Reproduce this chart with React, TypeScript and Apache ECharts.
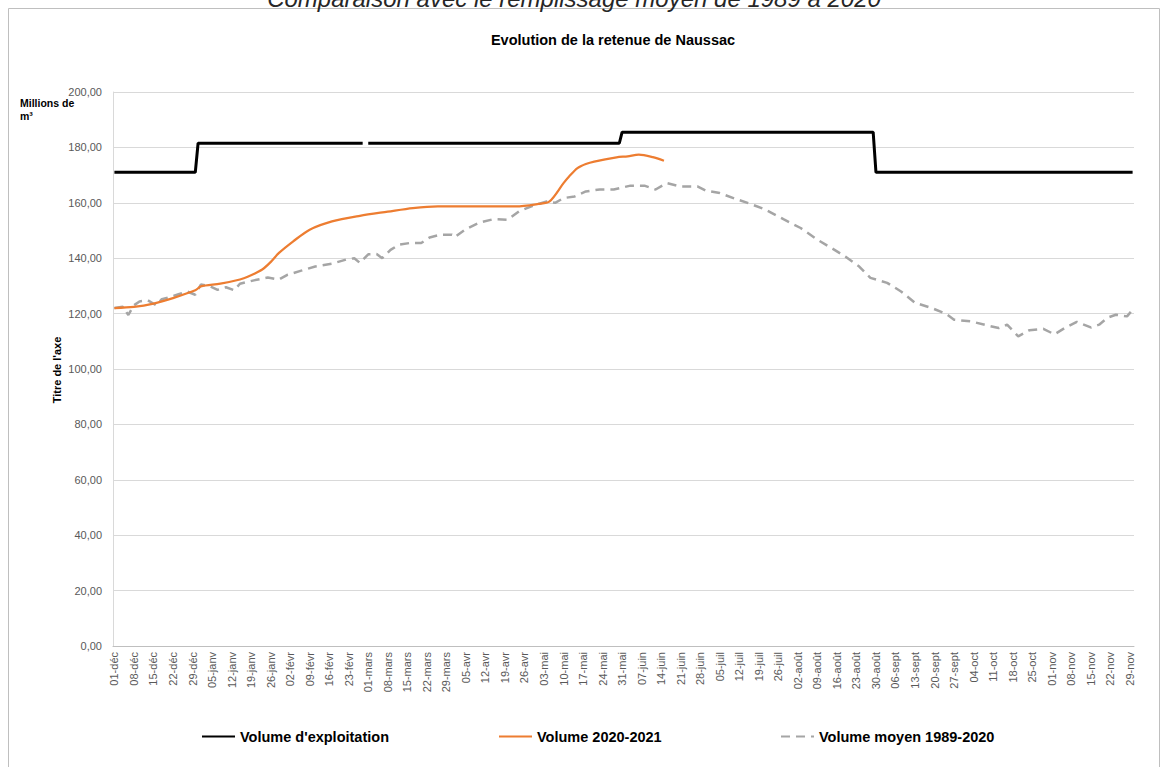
import React, { useEffect, useRef } from 'react';
import * as echarts from 'echarts';

// Category axis: one category per day, 01-déc to 30-nov (with 29-févr)
const MONTHS = ['déc', 'janv', 'févr', 'mars', 'avr', 'mai', 'juin', 'juil', 'août', 'sept', 'oct', 'nov'];
const MONTH_DAYS = [31, 31, 29, 31, 30, 31, 30, 31, 31, 30, 31, 30];
const categories: string[] = [];
MONTHS.forEach((m, k) => {
  for (let d = 1; d <= MONTH_DAYS[k]; d++) categories.push(String(d).padStart(2, '0') + '-' + m);
});

const Y_TICKS_MIN = 0;
const Y_TICKS_MAX = 200;
const Y_TICKS_STEP = 20;

// Volume d'exploitation (step levels at change dates)
const exploitationDates = ['01-déc', '30-déc', '31-déc', '28-févr', '29-févr', '01-mars', '30-mai', '31-mai', '29-août', '30-août', '30-nov'];
const exploitationValues: (number | null)[] = [171, 171, 181.5, 181.5, null, 181.5, 181.5, 185.5, 185.5, 171, 171];

// Volume 2020-2021
const volume2021Dates = ['01-déc', '08-déc', '15-déc', '22-déc', '30-déc', '01-janv', '08-janv', '15-janv', '18-janv', '23-janv', '26-janv', '29-janv', '03-févr', '09-févr', '17-févr', '27-févr', '08-mars', '17-mars', '26-mars', '10-avr', '23-avr', '01-mai', '05-mai', '10-mai', '12-mai', '15-mai', '18-mai', '21-mai', '29-mai', '02-juin', '06-juin', '11-juin', '15-juin'];
const volume2021Values = [122, 122.4, 123.6, 125.6, 128.4, 129.8, 130.8, 132.3, 133.4, 135.9, 138.6, 141.9, 146, 150.3, 153.3, 155.3, 156.8, 158.1, 158.7, 158.7, 158.7, 159.6, 160.5, 167.1, 169.5, 172.5, 174, 174.9, 176.4, 176.8, 177.4, 176.5, 175.2];

// Volume moyen 1989-2020
const averageDates = ['01-déc', '04-déc', '06-déc', '08-déc', '10-déc', '13-déc', '16-déc', '18-déc', '21-déc', '24-déc', '27-déc', '30-déc', '01-janv', '04-janv', '07-janv', '10-janv', '13-janv', '15-janv', '20-janv', '25-janv', '29-janv', '01-févr', '06-févr', '11-févr', '17-févr', '22-févr', '25-févr', '27-févr', '01-mars', '04-mars', '06-mars', '09-mars', '12-mars', '16-mars', '20-mars', '23-mars', '27-mars', '31-mars', '01-avr', '05-avr', '10-avr', '15-avr', '20-avr', '24-avr', '29-avr', '04-mai', '07-mai', '10-mai', '14-mai', '18-mai', '23-mai', '28-mai', '31-mai', '03-juin', '08-juin', '12-juin', '16-juin', '21-juin', '27-juin', '30-juin', '05-juil', '11-juil', '16-juil', '21-juil', '28-juil', '03-août', '09-août', '15-août', '19-août', '24-août', '28-août', '03-sept', '08-sept', '13-sept', '19-sept', '24-sept', '27-sept', '03-oct', '09-oct', '13-oct', '16-oct', '20-oct', '24-oct', '29-oct', '02-nov', '06-nov', '10-nov', '15-nov', '18-nov', '21-nov', '24-nov', '28-nov', '30-nov'];
const averageValues = [122, 122.5, 119.5, 123, 124.4, 124.8, 123, 125.2, 126, 127, 128, 126.8, 130.5, 130, 128.6, 129.5, 128.4, 130.8, 132, 133, 132.3, 134, 135.5, 137, 138, 139.5, 140, 138.3, 141.4, 141.5, 140, 143, 144.9, 145.5, 145.5, 147.5, 148.5, 148.5, 147.6, 150.5, 152.9, 154.1, 153.9, 156.9, 158.9, 160.5, 160, 161.7, 162.3, 164.1, 164.8, 164.8, 165.5, 166.2, 166.2, 164.8, 167.1, 165.9, 165.9, 164.4, 163.5, 161.3, 159.6, 157.7, 154, 150.9, 146.7, 143.1, 140.6, 137, 132.9, 131.1, 128, 123.9, 122, 120, 117.8, 117.2, 115.7, 114.8, 116, 111.8, 114, 114.5, 112.5, 115, 117, 115, 116, 118.5, 119.6, 119, 121.4];

const pairs = (dates: string[], values: (number | null)[]) =>
  dates.map((d, i) => [categories.indexOf(d), values[i] === null ? '-' : values[i]]);

const FONT = 'Liberation Sans, Arial, sans-serif';

export default function App() {
  const ref = useRef<HTMLDivElement>(null);
  useEffect(() => {
    if (!ref.current) return;
    const chart = echarts.init(ref.current, undefined, { renderer: 'svg' });
    const legendBase = {
      top: 729,
      padding: 0,
      itemWidth: 33,
      itemHeight: 12,
      itemGap: 4,
      itemStyle: { opacity: 0 },
      textStyle: { fontFamily: FONT, fontSize: 14.5, fontWeight: 'bold' as const, color: '#000' },
      selectedMode: false as const,
    };
    chart.setOption({
      animation: false,
      backgroundColor: '#fff',
      textStyle: { fontFamily: FONT },
      grid: { left: 113, right: 31, top: 92, bottom: 121, containLabel: false },
      legend: [
        { ...legendBase, left: 201, data: ["Volume d'exploitation"] },
        { ...legendBase, left: 498, data: ['Volume 2020-2021'] },
        { ...legendBase, left: 780, data: ['Volume moyen 1989-2020'] },
      ],
      xAxis: {
        type: 'category',
        data: categories,
        boundaryGap: true,
        axisLine: { show: true, lineStyle: { color: '#bfbfbf', width: 1 } },
        axisTick: { show: false },
        axisLabel: { interval: 6, rotate: 90, fontSize: 11, color: '#595959', margin: 6, fontFamily: FONT },
        splitLine: { show: false },
      },
      yAxis: {
        type: 'value',
        min: Y_TICKS_MIN,
        max: Y_TICKS_MAX,
        interval: Y_TICKS_STEP,
        axisLine: { show: true, lineStyle: { color: '#d9d9d9' } },
        axisTick: { show: false },
        axisLabel: {
          fontSize: 11,
          color: '#595959',
          margin: 11,
          fontFamily: FONT,
          formatter: (v: number) => v.toFixed(2).replace('.', ','),
        },
        splitLine: { show: true, lineStyle: { color: '#d9d9d9', width: 1 } },
      },
      series: [
        {
          name: "Volume d'exploitation",
          type: 'line',
          data: pairs(exploitationDates, exploitationValues),
          showSymbol: false,
          symbol: 'none',
          connectNulls: false,
          lineStyle: { color: '#000', width: 3 },
          itemStyle: { color: '#000' },
          z: 3,
        },
        {
          name: 'Volume 2020-2021',
          type: 'line',
          data: pairs(volume2021Dates, volume2021Values),
          showSymbol: false,
          symbol: 'none',
          smooth: 0.3,
          lineStyle: { color: '#ED7D31', width: 2.25 },
          itemStyle: { color: '#ED7D31' },
          z: 4,
        },
        {
          name: 'Volume moyen 1989-2020',
          type: 'line',
          data: pairs(averageDates, averageValues),
          showSymbol: false,
          symbol: 'none',
          lineStyle: { color: '#a5a5a5', width: 2.5, type: [9, 6] },
          itemStyle: { color: '#a5a5a5' },
          z: 2,
        },
      ],
      graphic: [
        {
          type: 'rect',
          shape: { x: 8.5, y: 8.5, width: 1151, height: 800 },
          style: { fill: 'none', stroke: '#bfbfbf', lineWidth: 1 },
          silent: true,
          z: -1,
        },
        {
          type: 'text',
          x: 574,
          y: 10,
          style: {
            text: 'Comparaison avec le remplissage moyen de 1989 à 2020',
            fontFamily: FONT,
            fontSize: 24,
            fontStyle: 'italic',
            fill: '#262626',
            textAlign: 'center',
            textVerticalAlign: 'bottom',
          },
        },
        {
          type: 'text',
          x: 613,
          y: 40,
          style: {
            text: 'Evolution de la retenue de Naussac',
            fontFamily: FONT,
            fontSize: 14.5,
            fontWeight: 'bold',
            fill: '#000',
            textAlign: 'center',
            textVerticalAlign: 'middle',
          },
        },
        {
          type: 'text',
          x: 20,
          y: 96,
          style: {
            text: 'Millions de\nm³',
            fontFamily: FONT,
            fontSize: 10.5,
            fontWeight: 'bold',
            lineHeight: 13,
            fill: '#000',
            textAlign: 'left',
            textVerticalAlign: 'top',
          },
        },
        {
          type: 'text',
          x: 57,
          y: 370,
          rotation: Math.PI / 2,
          style: {
            text: "Titre de l'axe",
            fontFamily: FONT,
            fontSize: 11,
            fontWeight: 'bold',
            fill: '#000',
            textAlign: 'center',
            textVerticalAlign: 'middle',
          },
        },
      ],
    });
    return () => chart.dispose();
  }, []);
  return (
    <div
      ref={ref}
      style={{ position: 'fixed', left: 0, top: 0, width: 1165, height: 767, background: '#fff' }}
    />
  );
}
